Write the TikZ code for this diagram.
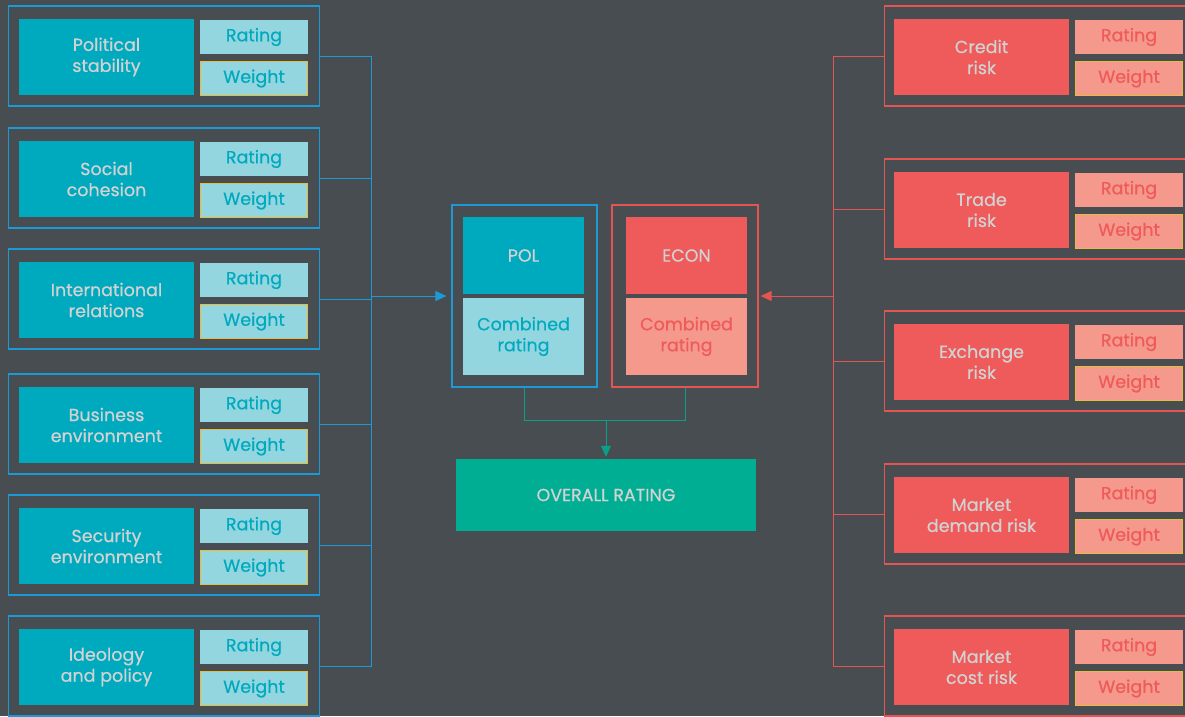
\documentclass[tikz,border=0pt]{standalone}
\usepackage{fontspec}
\setmainfont{Poppins}[UprightFeatures={FakeBold=0.6}]
\usetikzlibrary{arrows.meta}
\definecolor{bg}{HTML}{474D51}
\definecolor{polline}{HTML}{1B9AD6}
\definecolor{poldark}{HTML}{00AABE}
\definecolor{pollight}{HTML}{93D6E0}
\definecolor{econline}{HTML}{E35452}
\definecolor{econdark}{HTML}{EF5A5A}
\definecolor{econlight}{HTML}{F5998C}
\definecolor{wyellow}{HTML}{E6BE3C}
\definecolor{ovgreen}{HTML}{00AE94}
\definecolor{ovline}{HTML}{0B9E88}
\definecolor{txtgrey}{HTML}{D2D2D2}
\begin{document}
\begin{tikzpicture}[x=1pt,y=-1pt]
    \tikzstyle{txt}=[font=\fontsize{17.5}{21}\selectfont, align=center, inner sep=0pt]
    \tikzstyle{polbox}=[draw=polline, line width=1.2pt, minimum width=311pt, minimum height=100pt]
    \tikzstyle{econbox}=[draw=econline, line width=1.2pt, minimum width=311pt, minimum height=100pt]
    \tikzstyle{polmain}=[txt, fill=poldark, text=txtgrey, minimum width=175pt, minimum height=76pt]
    \tikzstyle{econmain}=[txt, fill=econdark, text=txtgrey, minimum width=175pt, minimum height=76pt]
    \tikzstyle{polrate}=[txt, fill=pollight, text=poldark, minimum width=108pt, minimum height=34pt]
    \tikzstyle{econrate}=[txt, fill=econlight, text=econdark, minimum width=108pt, minimum height=34pt]
    \tikzstyle{polweight}=[polrate, draw=wyellow, line width=1.2pt, minimum width=107pt]
    \tikzstyle{econweight}=[econrate, draw=wyellow, line width=1.2pt, minimum width=107pt]
    \tikzstyle{polwire}=[draw=polline, line width=1pt]
    \tikzstyle{econwire}=[draw=econline, line width=1pt]
    \tikzstyle{tip}=[-{Triangle[length=11pt, width=10pt]}]

    \fill[bg] (0,0) rectangle (1185,716);
    \useasboundingbox (0,0) rectangle (1185,716);

    % political side
    \node[polbox] (p1) at (164,56) {};
    \node[polmain] (p1m) at (106.5,57) {Political\\stability};
    \node[polrate] (p1r) at (254,37) {Rating};
    \node[polweight] (p1w) at (254,78.5) {Weight};

    \node[polbox] (p2) at (164,178) {};
    \node[polmain] (p2m) at (106.5,179) {Social\\cohesion};
    \node[polrate] (p2r) at (254,159) {Rating};
    \node[polweight] (p2w) at (254,200.5) {Weight};

    \node[polbox] (p3) at (164,299) {};
    \node[polmain] (p3m) at (106.5,300) {International\\relations};
    \node[polrate] (p3r) at (254,280) {Rating};
    \node[polweight] (p3w) at (254,321.5) {Weight};

    \node[polbox] (p4) at (164,424) {};
    \node[polmain] (p4m) at (106.5,425) {Business\\environment};
    \node[polrate] (p4r) at (254,405) {Rating};
    \node[polweight] (p4w) at (254,446.5) {Weight};

    \node[polbox] (p5) at (164,545) {};
    \node[polmain] (p5m) at (106.5,546) {Security\\environment};
    \node[polrate] (p5r) at (254,526) {Rating};
    \node[polweight] (p5w) at (254,567.5) {Weight};

    \node[polbox] (p6) at (164,666) {};
    \node[polmain] (p6m) at (106.5,667) {Ideology\\and policy};
    \node[polrate] (p6r) at (254,647) {Rating};
    \node[polweight] (p6w) at (254,688.5) {Weight};

    % economic side
    \node[econbox] (e1) at (1040,56) {};
    \node[econmain] (e1m) at (981.5,57) {Credit\\risk};
    \node[econrate] (e1r) at (1129,37) {Rating};
    \node[econweight] (e1w) at (1129,78.5) {Weight};

    \node[econbox] (e2) at (1040,209) {};
    \node[econmain] (e2m) at (981.5,210) {Trade\\risk};
    \node[econrate] (e2r) at (1129,190) {Rating};
    \node[econweight] (e2w) at (1129,231.5) {Weight};

    \node[econbox] (e3) at (1040,361) {};
    \node[econmain] (e3m) at (981.5,362) {Exchange\\risk};
    \node[econrate] (e3r) at (1129,342) {Rating};
    \node[econweight] (e3w) at (1129,383.5) {Weight};

    \node[econbox] (e4) at (1040,514) {};
    \node[econmain] (e4m) at (981.5,515) {Market\\demand risk};
    \node[econrate] (e4r) at (1129,495) {Rating};
    \node[econweight] (e4w) at (1129,536.5) {Weight};

    \node[econbox] (e5) at (1040,666) {};
    \node[econmain] (e5m) at (981.5,667) {Market\\cost risk};
    \node[econrate] (e5r) at (1129,647) {Rating};
    \node[econweight] (e5w) at (1129,688.5) {Weight};

    % middle
    \node[draw=polline, line width=1.2pt, minimum width=145pt, minimum height=182pt] (pol) at (524.5,296) {};
    \node[polmain, minimum width=121pt, minimum height=77pt] (polm) at (523.5,255.5) {POL};
    \node[polrate, minimum width=121pt, minimum height=77pt] (polc) at (523.5,336.5) {Combined\\rating};
    \node[draw=econline, line width=1.2pt, minimum width=146pt, minimum height=182pt] (econ) at (685,296) {};
    \node[econmain, minimum width=121pt, minimum height=77pt] (econm) at (686.5,255.5) {ECON};
    \node[econrate, minimum width=121pt, minimum height=77pt] (econc) at (686.5,336.5) {Combined\\rating};
    \node[txt, fill=ovgreen, text=txtgrey, minimum width=300pt, minimum height=72pt] (overall) at (606,495) {OVERALL RATING};

    \coordinate (lbus) at (371,296);
    \coordinate (rbus) at (833,296);
    \coordinate (gmid) at (606,420);

    \path[polwire] (p1.east) -| (lbus) (p2.east) -| (lbus) (p3.east) -| (lbus)
        (p4.east) -| (lbus) (p5.east) -| (lbus) (p6.east) -| (lbus);
    \draw[polwire, tip, shorten >=5pt] (lbus) -- (pol.west);
    \path[econwire] (e1.west) -| (rbus) (e2.west) -| (rbus) (e3.west) -| (rbus)
        (e4.west) -| (rbus) (e5.west) -| (rbus);
    \draw[econwire, tip, shorten >=2pt] (rbus) -- (econ.east);
    \draw[draw=ovline, line width=1pt] (pol.south) |- (gmid) -| (econ.south);
    \draw[draw=ovline, line width=1pt, tip, shorten >=2pt] (gmid) -- (overall.north);
\end{tikzpicture}
\end{document}
